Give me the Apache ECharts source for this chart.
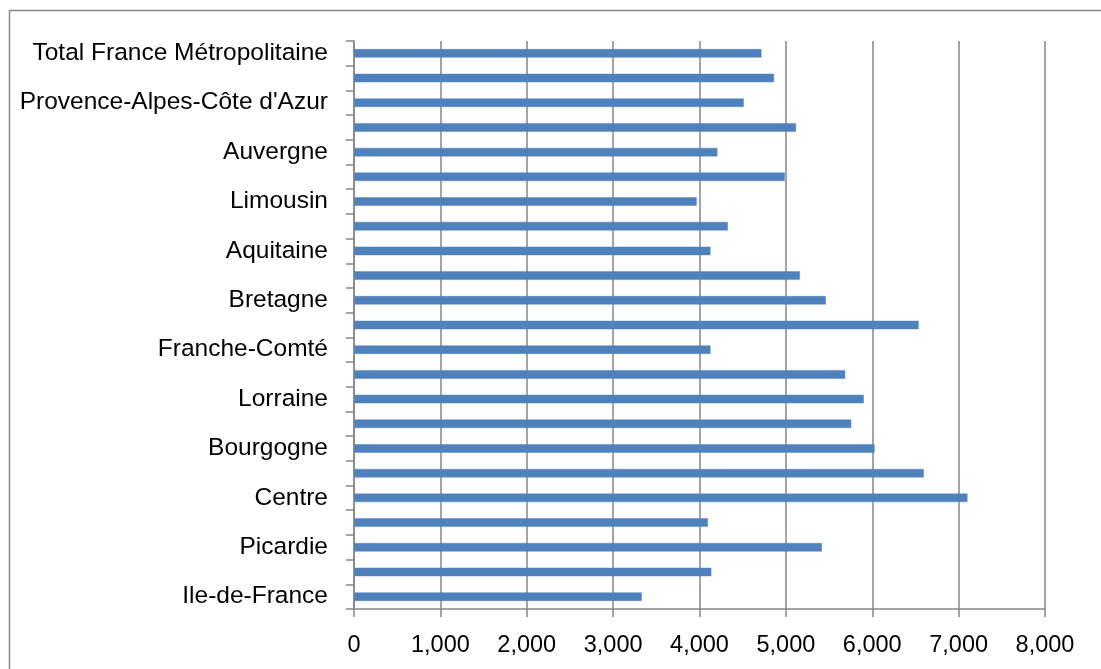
<!DOCTYPE html>
<html>
<head>
<meta charset="utf-8">
<script src="https://cdn.jsdelivr.net/npm/echarts@6/dist/echarts.min.js"></script>
<style>
  html, body { margin: 0; padding: 0; background: #fff; }
  #chart { width: 1101px; height: 669px; }
</style>
</head>
<body>
<div id="chart"></div>
<script>
// Regions, listed from the bottom of the axis to the top
const regions = [
  'Ile-de-France', 'Champagne-Ardenne', 'Picardie', 'Haute-Normandie',
  'Centre', 'Basse-Normandie', 'Bourgogne', 'Nord-Pas-de-Calais',
  'Lorraine', 'Alsace', 'Franche-Comté', 'Pays de la Loire',
  'Bretagne', 'Poitou-Charentes', 'Aquitaine', 'Midi-Pyrénées',
  'Limousin', 'Rhône-Alpes', 'Auvergne', 'Languedoc-Roussillon',
  "Provence-Alpes-Côte d'Azur", 'Corse', 'Total France Métropolitaine'
];

const values = [
  3335, 4140, 5420, 4100,
  7105, 6600, 6030, 5760,
  5905, 5690, 4130, 6540,
  5465, 5165, 4130, 4330,
  3970, 4990, 4210, 5120,
  4515, 4865, 4720
];

const xMin = 0;
const xMax = 8000;
const xStep = 1000;

const gray = '#868686';
const font = "'Liberation Sans', Arial, sans-serif";

const chart = echarts.init(document.getElementById('chart'), null, { renderer: 'canvas' });

chart.setOption({
  animation: false,
  backgroundColor: '#ffffff',
  graphic: [{
    type: 'rect',
    shape: { x: 9.5, y: 10.5, width: 1200, height: 800 },
    style: { fill: 'none', stroke: gray, lineWidth: 1.5 },
    silent: true
  }],
  grid: { left: 354, right: 56, top: 41, bottom: 60, containLabel: false },
  xAxis: {
    type: 'value',
    min: xMin,
    max: xMax,
    interval: xStep,
    axisLine: { show: true, lineStyle: { color: gray, width: 1.5 } },
    axisTick: { show: true, inside: false, length: 8, lineStyle: { color: gray, width: 1.5 } },
    splitLine: { show: true, lineStyle: { color: gray, width: 1.5 } },
    axisLabel: {
      color: '#000',
      fontFamily: font,
      fontSize: 23.5,
      margin: 25,
      formatter: v => v.toLocaleString('en-US')
    }
  },
  yAxis: {
    type: 'category',
    data: regions,
    axisLine: { show: true, lineStyle: { color: gray, width: 1.5 } },
    axisTick: { show: true, interval: 0, length: 8, lineStyle: { color: gray, width: 1.5 } },
    splitLine: { show: false },
    axisLabel: {
      interval: 1,
      color: '#000',
      fontFamily: font,
      fontSize: 24.5,
      margin: 26
    }
  },
  series: [{
    type: 'bar',
    data: values,
    barWidth: 9,
    itemStyle: {
      color: '#4F81BD',
      borderColor: 'rgba(79,129,189,0.45)',
      borderWidth: 1
    }
  }]
});
</script>
</body>
</html>
